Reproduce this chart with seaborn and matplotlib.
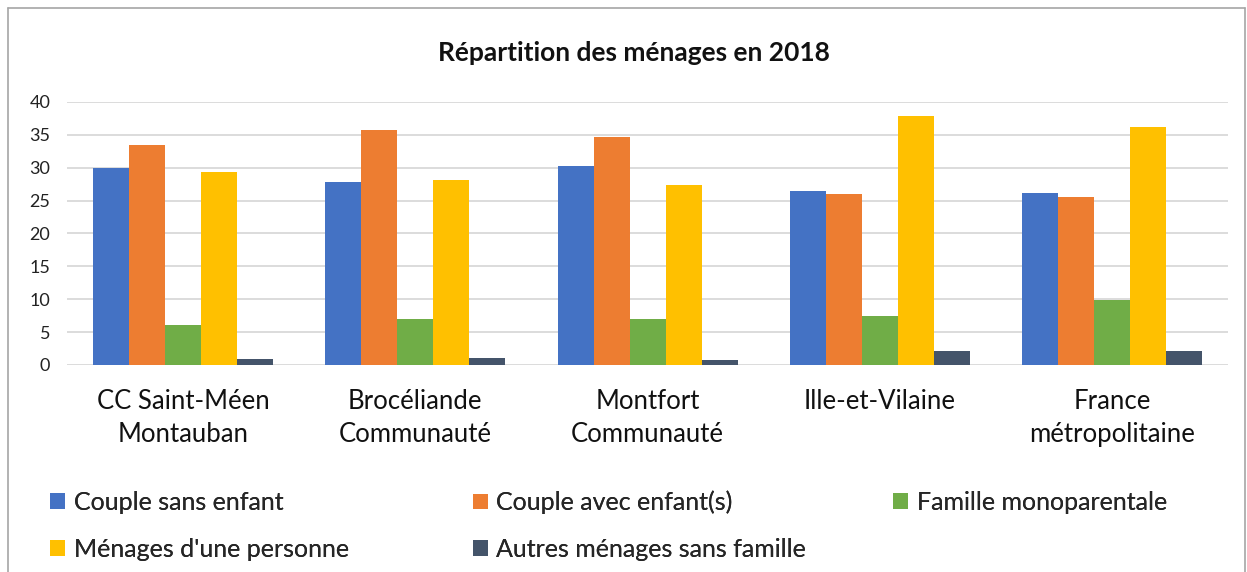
import numpy as np
import pandas as pd
import matplotlib
matplotlib.use('Agg')
import matplotlib.pyplot as plt
import seaborn as sns
from matplotlib.patches import Patch

# data
territoires = ['CC Saint-Méen\nMontauban', 'Brocéliande\nCommunauté', 'Montfort\nCommunauté',
               'Ille-et-Vilaine', 'France\nmétropolitaine']
couple_sans = [30.0, 27.8, 30.2, 26.4, 26.1]
couple_avec = [33.5, 35.8, 34.7, 26.0, 25.6]
monoparentale = [6.1, 7.0, 7.0, 7.5, 9.8]
une_personne = [29.4, 28.1, 27.3, 37.8, 36.2]
autres = [0.9, 1.1, 0.8, 2.1, 2.1]

series = ['Couple sans enfant', 'Couple avec enfant(s)', 'Famille monoparentale',
          "Ménages d'une personne", 'Autres ménages sans famille']
colors = ['#4472C4', '#ED7D31', '#70AD47', '#FFC000', '#44546A']

rows = []
for s, vals in zip(series, [couple_sans, couple_avec, monoparentale, une_personne, autres]):
    for t, v in zip(territoires, vals):
        rows.append({'territoire': t, 'type': s, 'part': v})
df = pd.DataFrame(rows)

sns.set_style('white')
plt.rcParams['font.family'] = ['Lato', 'DejaVu Sans']

fig = plt.figure(figsize=(12.47, 5.72), dpi=100)
ax = fig.add_axes([0.0537, 0.362, 0.9313, 0.4598])

sns.barplot(data=df, x='territoire', y='part', hue='type', order=territoires,
            hue_order=series, palette=colors, width=0.775, saturation=1,
            edgecolor='none', ax=ax, legend=False)

ax.set_ylim(0, 40)
ax.set_xlim(-0.5, 4.5)
ax.set_yticks(range(0, 41, 5))
ax.yaxis.grid(True, color='#D9D9D9', linewidth=1.3)
ax.set_axisbelow(True)
for sp in ax.spines.values():
    sp.set_visible(False)
ax.set_xlabel('')
ax.set_ylabel('')
ax.tick_params(axis='y', labelsize=13, length=0, pad=12, labelcolor='#222222')
ax.tick_params(axis='x', labelsize=18.5, length=0, pad=17, labelcolor='#111111')
for lab in ax.get_xticklabels():
    lab.set_linespacing(1.4)

fig.text(0.508, 0.908, 'Répartition des ménages en 2018', ha='center', va='center',
         fontsize=19, fontweight='bold', color='#111111')

# legend: Excel puts entries row by row in equal-width columns
cols_x = [0.040, 0.379, 0.716]
columns = [[0, 3], [1, 4], [2]]
for x, idx in zip(cols_x, columns):
    handles = [Patch(facecolor=colors[i], edgecolor='none') for i in idx]
    leg = fig.legend(handles, [series[i] for i in idx], loc='upper left',
                     bbox_to_anchor=(x, 0.142), ncol=1, frameon=False, fontsize=18,
                     handlelength=0.6, handleheight=0.6, handletextpad=0.35,
                     labelspacing=0.95, borderaxespad=0, borderpad=0)
    fig.add_artist(leg)

# outer chart frame
fr = dict(color='#A6A6A6', linewidth=1.2)
fig.add_artist(plt.Line2D([0.0065, 0.0065], [0, 0.986], transform=fig.transFigure, **fr))
fig.add_artist(plt.Line2D([0.0065, 0.998], [0.986, 0.986], transform=fig.transFigure, **fr))
fig.add_artist(plt.Line2D([0.998, 0.998], [0, 0.986], transform=fig.transFigure, **fr))

fig.savefig('out.png', dpi=100)
